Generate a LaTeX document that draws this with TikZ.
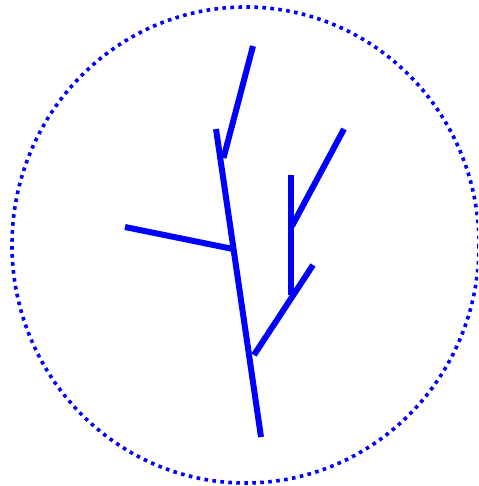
\documentclass[tikz,border=0pt]{standalone}
\begin{document}
\begin{tikzpicture}[x=1pt,y=-1pt,
  branch/.style={draw=blue,line width=6pt},
  rim/.style={draw=blue,line width=3.6pt,dash pattern=on 3.6pt off 4.4pt}]
\useasboundingbox (0,0) rectangle (478,486);
\begin{scope}
\clip (0,0) rectangle (478,486);
\draw[rim] (245.5,245) ellipse[x radius=233.5,y radius=238];
\end{scope}
\coordinate (t1) at (216,129);
\coordinate (t2) at (261,437);
\coordinate (a1) at (223.5,158);
\coordinate (a2) at (253,46);
\coordinate (b1) at (125,227);
\coordinate (b2) at (233,249);
\coordinate (c1) at (254,355);
\coordinate (c2) at (313,265);
\coordinate (d1) at (291,175);
\coordinate (d2) at (291,295);
\coordinate (e1) at (292,226);
\coordinate (e2) at (344,129);
\draw[branch] (t1) -- (t2);
\draw[branch] (a1) -- (a2);
\draw[branch] (b1) -- (b2);
\draw[branch] (c1) -- (c2);
\draw[branch] (d1) -- (d2);
\draw[branch] (e1) -- (e2);
\end{tikzpicture}
\end{document}
